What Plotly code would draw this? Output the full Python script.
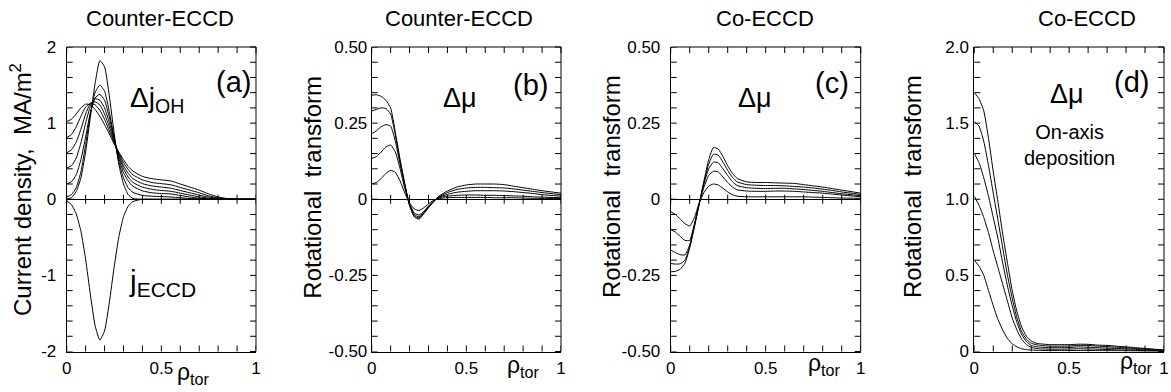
import plotly.graph_objects as go

W, H = 1171, 392
FONT = "Liberation Sans, Arial, sans-serif"

# ---------------- data ----------------
rho = [0, 0.025, 0.05, 0.075, 0.1, 0.125, 0.15, 0.175, 0.2, 0.225, 0.25, 0.275, 0.3,
       0.325, 0.35, 0.4, 0.45, 0.5, 0.55, 0.6, 0.65, 0.7, 0.75, 0.8, 0.85, 0.9, 1.0]

# panel (a): ohmic current density change (MA/m^2), 7 time slices, and the ECCD current
dj_oh_1 = [0.0, 0.02, 0.10, 0.28, 0.62, 1.08, 1.52, 1.82, 1.74, 1.36, 0.88, 0.46, 0.20, 0.06, 0.01,
           0, 0, 0, 0, 0, 0, 0, 0, 0, 0, 0, 0]
dj_oh_2 = [0.03, 0.06, 0.15, 0.36, 0.72, 1.12, 1.40, 1.50, 1.42, 1.15, 0.82, 0.50, 0.28, 0.15, 0.09,
           0.05, 0.04, 0.035, 0.03, 0.02, 0.01, 0.004, 0, 0, 0, 0, 0]
dj_oh_3 = [0.20, 0.23, 0.32, 0.52, 0.82, 1.14, 1.33, 1.38, 1.30, 1.08, 0.80, 0.54, 0.35, 0.24, 0.17,
           0.11, 0.085, 0.075, 0.07, 0.05, 0.03, 0.014, 0.005, 0, 0, 0, 0]
dj_oh_4 = [0.41, 0.44, 0.54, 0.74, 1.00, 1.22, 1.32, 1.30, 1.20, 1.01, 0.79, 0.57, 0.40, 0.29, 0.22,
           0.16, 0.13, 0.115, 0.105, 0.08, 0.055, 0.032, 0.014, 0.004, 0, 0, 0]
dj_oh_5 = [0.61, 0.65, 0.75, 0.92, 1.12, 1.26, 1.28, 1.24, 1.12, 0.95, 0.77, 0.59, 0.44, 0.34, 0.27,
           0.205, 0.175, 0.16, 0.145, 0.115, 0.085, 0.055, 0.028, 0.011, 0.003, 0, 0]
dj_oh_6 = [0.81, 0.85, 0.95, 1.09, 1.21, 1.26, 1.24, 1.17, 1.05, 0.90, 0.75, 0.61, 0.48, 0.39, 0.32,
           0.255, 0.22, 0.205, 0.19, 0.155, 0.12, 0.085, 0.045, 0.018, 0.006, 0, 0]
dj_oh_7 = [1.02, 1.05, 1.12, 1.20, 1.25, 1.24, 1.18, 1.09, 0.98, 0.86, 0.73, 0.62, 0.52, 0.43, 0.37,
           0.30, 0.27, 0.255, 0.24, 0.20, 0.16, 0.12, 0.07, 0.03, 0.008, 0, 0]
j_eccd = [-0.02, -0.07, -0.19, -0.42, -0.79, -1.25, -1.66, -1.85, -1.73, -1.36, -0.90, -0.50, -0.23,
          -0.09, -0.03, 0, 0, 0, 0, 0, 0, 0, 0, 0, 0, 0, 0]

# panel (b): counter-ECCD, change of rotational transform
dmu_b_1 = [0.342, 0.343, 0.338, 0.325, 0.30, 0.22, 0.13, 0.05, -0.02, -0.058, -0.065, -0.048, -0.028,
           -0.01, 0.008, 0.027, 0.04, 0.047, 0.05, 0.05, 0.05, 0.048, 0.043, 0.038, 0.033, 0.028, 0.02]
dmu_b_2 = [0.29, 0.295, 0.30, 0.298, 0.28, 0.21, 0.125, 0.048, -0.02, -0.055, -0.062, -0.045, -0.026,
           -0.009, 0.006, 0.022, 0.032, 0.037, 0.039, 0.039, 0.038, 0.037, 0.034, 0.03, 0.026, 0.022, 0.015]
dmu_b_3 = [0.215, 0.225, 0.238, 0.245, 0.24, 0.19, 0.115, 0.045, -0.018, -0.05, -0.058, -0.043, -0.024,
           -0.008, 0.005, 0.016, 0.023, 0.026, 0.028, 0.028, 0.028, 0.027, 0.025, 0.022, 0.019, 0.015, 0.01]
dmu_b_4 = [0.134, 0.14, 0.155, 0.172, 0.178, 0.155, 0.10, 0.035, -0.015, -0.045, -0.052, -0.04, -0.022,
           -0.007, 0.004, 0.01, 0.013, 0.014, 0.014, 0.013, 0.013, 0.012, 0.011, 0.01, 0.008, 0.007, 0.005]
dmu_b_5 = [0.05, 0.055, 0.068, 0.085, 0.095, 0.088, 0.06, 0.02, -0.012, -0.032, -0.037, -0.028, -0.015,
           -0.004, 0.002, 0.005, 0.006, 0.006, 0.006, 0.006, 0.005, 0.005, 0.005, 0.004, 0.003, 0.003, 0.002]

# panel (c): co-ECCD, change of rotational transform
dmu_c_1 = [-0.238, -0.237, -0.23, -0.21, -0.16, -0.09, -0.015, 0.06, 0.13, 0.17, 0.165, 0.14, 0.11,
           0.085, 0.068, 0.057, 0.055, 0.055, 0.054, 0.053, 0.052, 0.048, 0.044, 0.04, 0.035, 0.03, 0.02]
dmu_c_2 = [-0.211, -0.213, -0.212, -0.2, -0.155, -0.088, -0.015, 0.055, 0.115, 0.148, 0.145, 0.122, 0.095,
           0.072, 0.057, 0.048, 0.046, 0.045, 0.045, 0.044, 0.042, 0.04, 0.037, 0.033, 0.029, 0.024, 0.016]
dmu_c_3 = [-0.167, -0.175, -0.182, -0.183, -0.15, -0.085, -0.015, 0.05, 0.10, 0.122, 0.12, 0.10, 0.078,
           0.058, 0.045, 0.038, 0.036, 0.035, 0.036, 0.036, 0.034, 0.032, 0.029, 0.026, 0.022, 0.018, 0.012]
dmu_c_4 = [-0.099, -0.108, -0.122, -0.135, -0.135, -0.08, -0.015, 0.04, 0.078, 0.092, 0.09, 0.073, 0.055,
           0.04, 0.031, 0.027, 0.026, 0.026, 0.027, 0.027, 0.026, 0.024, 0.022, 0.02, 0.017, 0.014, 0.008]
dmu_c_5 = [-0.041, -0.05, -0.065, -0.08, -0.088, -0.06, -0.012, 0.022, 0.043, 0.05, 0.047, 0.036, 0.024,
           0.015, 0.01, 0.008, 0.008, 0.008, 0.008, 0.008, 0.008, 0.008, 0.007, 0.006, 0.005, 0.004, 0.003]

# panel (d): co-ECCD on-axis deposition, change of rotational transform
dmu_d_1 = [1.70, 1.66, 1.58, 1.40, 1.18, 0.98, 0.77, 0.58, 0.40, 0.26, 0.16, 0.10, 0.07, 0.055, 0.05,
           0.045, 0.045, 0.045, 0.048, 0.047, 0.042, 0.04, 0.035, 0.03, 0.025, 0.02, 0.01]
dmu_d_2 = [1.51, 1.48, 1.38, 1.22, 1.04, 0.86, 0.68, 0.50, 0.35, 0.22, 0.13, 0.08, 0.055, 0.045, 0.04,
           0.035, 0.035, 0.036, 0.04, 0.04, 0.035, 0.032, 0.028, 0.024, 0.02, 0.015, 0.008]
dmu_d_3 = [1.30, 1.24, 1.14, 1.02, 0.88, 0.74, 0.58, 0.43, 0.30, 0.19, 0.11, 0.065, 0.04, 0.032, 0.028,
           0.025, 0.025, 0.026, 0.03, 0.028, 0.025, 0.022, 0.02, 0.017, 0.014, 0.01, 0.005]
dmu_d_4 = [1.02, 0.96, 0.88, 0.78, 0.66, 0.55, 0.44, 0.33, 0.22, 0.14, 0.08, 0.045, 0.027, 0.02, 0.017,
           0.015, 0.015, 0.016, 0.018, 0.017, 0.015, 0.013, 0.011, 0.009, 0.007, 0.005, 0.003]
dmu_d_5 = [0.60, 0.56, 0.50, 0.40, 0.30, 0.21, 0.14, 0.085, 0.05, 0.03, 0.018, 0.012, 0.01, 0.008, 0.007,
           0.006, 0.006, 0.006, 0.007, 0.007, 0.006, 0.005, 0.005, 0.004, 0.003, 0.002, 0.001]

panel_titles = ["Counter-ECCD", "Counter-ECCD", "Co-ECCD", "Co-ECCD"]
panel_letters = ["(a)", "(b)", "(c)", "(d)"]

# axis ticks / labels
x_tickvals = [0, 0.5, 1]
x_ticktext = ["0", "0.5", "1"]
x_tick_marks = [0, 0.1, 0.2, 0.3, 0.4, 0.5, 0.6, 0.7, 0.8, 0.9, 1.0]

ya_tickvals = [-2, -1, 0, 1, 2]
ya_ticktext = ["-2", "-1", "0", "1", "2"]
ya_tick_marks = [-2, -1.8, -1.6, -1.4, -1.2, -1, -0.8, -0.6, -0.4, -0.2, 0,
                 0.2, 0.4, 0.6, 0.8, 1, 1.2, 1.4, 1.6, 1.8, 2]
ybc_tickvals = [-0.5, -0.25, 0, 0.25, 0.5]
ybc_ticktext = ["-0.50", "-0.25", "0", "0.25", "0.50"]
ybc_tick_marks = [-0.5, -0.45, -0.4, -0.35, -0.3, -0.25, -0.2, -0.15, -0.1, -0.05, 0,
                  0.05, 0.1, 0.15, 0.2, 0.25, 0.3, 0.35, 0.4, 0.45, 0.5]
yd_tickvals = [0, 0.5, 1.0, 1.5, 2.0]
yd_ticktext = ["0", "0.5", "1.0", "1.5", "2.0"]
yd_tick_marks = [0, 0.1, 0.2, 0.3, 0.4, 0.5, 0.6, 0.7, 0.8, 0.9, 1.0,
                 1.1, 1.2, 1.3, 1.4, 1.5, 1.6, 1.7, 1.8, 1.9, 2.0]

# ---------------- layout helpers ----------------
def px(x):
    return x / W

def py(y):
    return 1 - y / H

XDOM = [[66.7, 256.0], [371.7, 561.0], [670.7, 860.7], [974.3, 1164.0]]
YTOP, YBOT = 47.0, 351.5
YDOM = [py(YBOT), py(YTOP)]
PAD = 4     # px by which the frame overlay subplot is larger than the panel
TL = 6      # inward tick length, px
ZL = 4.5    # half length of ticks crossing the zero line, px
BLACK = dict(color="black", width=1)

fig = go.Figure()

panels = [
    ("x", "y", [-2, 2], ya_tick_marks, True,
     [dj_oh_1, dj_oh_2, dj_oh_3, dj_oh_4, dj_oh_5, dj_oh_6, dj_oh_7, j_eccd]),
    ("x2", "y2", [-0.5, 0.5], ybc_tick_marks, True, [dmu_b_1, dmu_b_2, dmu_b_3, dmu_b_4, dmu_b_5]),
    ("x3", "y3", [-0.5, 0.5], ybc_tick_marks, True, [dmu_c_1, dmu_c_2, dmu_c_3, dmu_c_4, dmu_c_5]),
    ("x4", "y4", [0, 2], yd_tick_marks, False, [dmu_d_1, dmu_d_2, dmu_d_3, dmu_d_4, dmu_d_5]),
]

shapes = []
frame_axes = {}
pw_all = []
for i, (xa, ya, yr, ymarks, has_zero, series) in enumerate(panels):
    for s in series:
        fig.add_trace(go.Scatter(x=rho, y=s, mode="lines",
                                 line=dict(color="black", width=1, shape="spline", smoothing=0.5),
                                 xaxis=xa, yaxis=ya, showlegend=False, hoverinfo="skip"))
    xd, yd = xa + " domain", ya + " domain"
    # bottom ticks, zero-line ticks and left ticks (shapes)
    for v in x_tick_marks:
        shapes.append(dict(type="line", xref=xa, yref=yd, ysizemode="pixel", yanchor=0,
                           x0=v, x1=v, y0=0, y1=TL, line=BLACK, layer="above"))
        if has_zero:
            shapes.append(dict(type="line", xref=xa, yref=ya, ysizemode="pixel", yanchor=0,
                               x0=v, x1=v, y0=-ZL, y1=ZL, line=BLACK, layer="above"))
    for v in ymarks:
        shapes.append(dict(type="line", xref=xd, yref=ya, xsizemode="pixel", xanchor=0,
                           x0=0, x1=TL, y0=v, y1=v, line=BLACK, layer="above"))

    # overlay subplot, slightly larger than the panel, carrying the top / right frame and ticks
    k = i + 5
    x_left, x_right = XDOM[i]
    pw, ph = x_right - x_left, YBOT - YTOP
    dx = PAD / pw                       # panel x units (range 0..1) per PAD px
    dy = PAD * (yr[1] - yr[0]) / ph     # panel y units per PAD px
    frame_axes[f"xaxis{k}"] = dict(domain=[px(x_left - PAD), px(x_right + PAD)],
                                   range=[0 - dx, 1 + dx], anchor=f"y{k}", visible=False)
    frame_axes[f"yaxis{k}"] = dict(domain=[py(YBOT + PAD), py(YTOP - PAD)],
                                   range=[yr[0] - dy, yr[1] + dy], anchor=f"x{k}", visible=False)
    tx = TL / pw
    ty = TL * (yr[1] - yr[0]) / ph
    fx, fy = [0, 1, 1], [yr[1], yr[1], yr[0]]          # top edge then right edge
    for v in x_tick_marks:                             # top ticks
        fx += [None, v, v]
        fy += [None, yr[1], yr[1] - ty]
    for v in ymarks:                                   # right ticks
        fx += [None, 1, 1 - tx]
        fy += [None, v, v]
    fig.add_trace(go.Scatter(x=fx, y=fy, mode="lines", line=BLACK, connectgaps=False,
                             xaxis=f"x{k}", yaxis=f"y{k}", showlegend=False, hoverinfo="skip"))

tickfont = dict(family=FONT, size=17, color="black")

def xaxis(i):
    return dict(domain=[px(XDOM[i][0]), px(XDOM[i][1])], range=[0, 1],
                anchor="y" if i == 0 else f"y{i+1}",
                tickmode="array", tickvals=x_tickvals, ticktext=x_ticktext, ticks="",
                showline=True, linecolor="black", linewidth=1,
                showgrid=False, zeroline=False, tickfont=tickfont,
                ticklabelstandoff=1, fixedrange=True)

def yaxis(i, rng, tv, tt, zl, standoff):
    return dict(domain=YDOM, range=rng, anchor="x" if i == 0 else f"x{i+1}",
                tickmode="array", tickvals=tv, ticktext=tt, ticks="",
                showline=True, linecolor="black", linewidth=1,
                showgrid=False, zeroline=zl, zerolinecolor="black", zerolinewidth=1,
                tickfont=tickfont, ticklabelstandoff=standoff, fixedrange=True)

fig.update_layout(
    width=W, height=H, margin=dict(l=0, r=0, t=0, b=0, autoexpand=False),
    paper_bgcolor="white", plot_bgcolor="rgba(0,0,0,0)", showlegend=False,
    font=dict(family=FONT, color="black"),
    xaxis=xaxis(0), xaxis2=xaxis(1), xaxis3=xaxis(2), xaxis4=xaxis(3),
    yaxis=yaxis(0, [-2, 2], ya_tickvals, ya_ticktext, True, 6),
    yaxis2=yaxis(1, [-0.5, 0.5], ybc_tickvals, ybc_ticktext, True, 0),
    yaxis3=yaxis(2, [-0.5, 0.5], ybc_tickvals, ybc_ticktext, True, 6),
    yaxis4=yaxis(3, [0, 2], yd_tickvals, yd_ticktext, False, 1),
    shapes=shapes,
    **frame_axes,
)

def ann(text, x, y, size, xanchor="center", yanchor="middle", angle=0):
    fig.add_annotation(text=text, x=px(x), y=py(y), xref="paper", yref="paper", showarrow=False,
                       xanchor=xanchor, yanchor=yanchor, textangle=angle,
                       font=dict(family=FONT, size=size, color="black"))

# panel titles
for t, xc in zip(panel_titles, [160, 459, 765, 1087]):
    ann(t, xc, 19, 22)

# y-axis titles
ann("Current density,\u00a0\u00a0MA/m<sup>2</sup>", 21, 190, 24, angle=-90)
for xc in [311.7, 611, 912]:
    ann("Rotational\u00a0\u00a0transform", xc, 187, 24, angle=-90)

# panel letters
for t, (xc, yc) in zip(panel_letters, [(233, 82), (530, 85), (831.5, 83), (1131, 82)]):
    ann(t, xc, yc, 29)

# curve labels
ann("Δj<sub>OH</sub>", 157, 100, 28)
ann("j<sub>ECCD</sub>", 162, 282, 30)
ann("Δμ", 460, 98, 27)
ann("Δμ", 755, 98, 27)
ann("Δμ", 1067, 94, 27)
ann("On-axis<br>deposition", 1069, 145, 20)

# x-axis titles (rho_tor)
for xl, yc in [(175, 373), (505, 366), (806, 364), (1118, 362)]:
    ann("ρ<sub>tor</sub>", xl, yc, 23, xanchor="left")

fig.write_html("out.html", config={"displayModeBar": False},
               post_script="document.body.style.margin='0';document.body.style.overflow='hidden';")
